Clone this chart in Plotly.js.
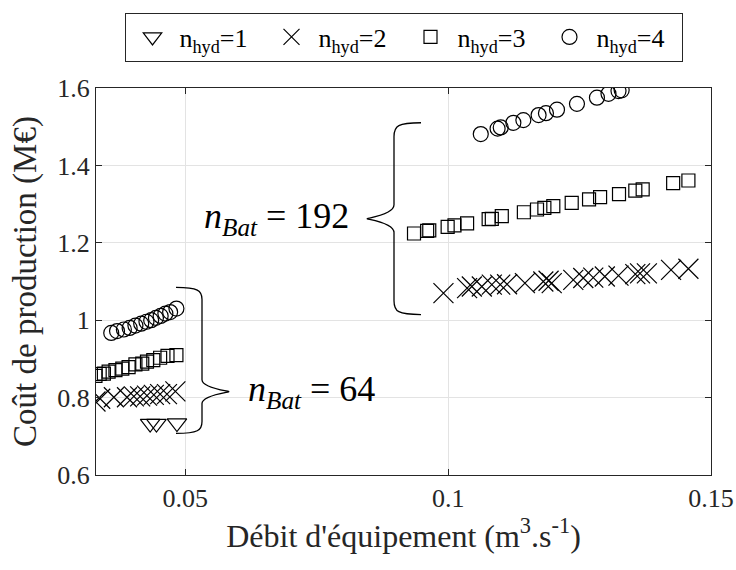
<!DOCTYPE html>
<html>
<head>
<meta charset="utf-8">
<script src="https://cdn.plot.ly/plotly-3.0.1.min.js"></script>
<style>html,body{margin:0;padding:0;background:#fff;}#chart{width:736px;height:570px;}</style>
</head>
<body>
<div id="chart"></div>
<script>
// ---- data (flow in m3/s, cost in M€) ----
const seriesNames = ['n<sub>hyd</sub>=1', 'n<sub>hyd</sub>=2', 'n<sub>hyd</sub>=3', 'n<sub>hyd</sub>=4'];

const flowHyd1 = [0.0433, 0.0445, 0.0484];
const costHyd1 = [0.733, 0.733, 0.734];

const flowHyd2 = [0.0329, 0.0338, 0.0364, 0.0389, 0.0402, 0.0414, 0.0427, 0.0440, 0.0452, 0.0465, 0.0481,
                  0.0991, 0.1036, 0.1045, 0.1064, 0.1083, 0.1099, 0.1112, 0.1146, 0.1181, 0.1191, 0.1197,
                  0.1238, 0.1257, 0.1276, 0.1298, 0.1324, 0.1356, 0.1365, 0.1378, 0.1424, 0.1457];
const costHyd2 = [0.790, 0.797, 0.801, 0.801, 0.803, 0.803, 0.805, 0.807, 0.809, 0.809, 0.816,
                  1.070, 1.083, 1.087, 1.087, 1.092, 1.092, 1.093, 1.096, 1.100, 1.102, 1.096,
                  1.104, 1.109, 1.110, 1.113, 1.115, 1.119, 1.121, 1.121, 1.130, 1.133];

const flowHyd3 = [0.0329, 0.0337, 0.0345, 0.0354, 0.0367, 0.0380, 0.0392, 0.0405, 0.0418, 0.0427, 0.0439, 0.0452, 0.0466, 0.0483,
                  0.0935, 0.0960, 0.0964, 0.0999, 0.1012, 0.1036, 0.1077, 0.1083, 0.1102, 0.1144, 0.1169, 0.1183,
                  0.1200, 0.1235, 0.1268, 0.1289, 0.1325, 0.1356, 0.1370, 0.1428, 0.1457];
const costHyd3 = [0.856, 0.861, 0.862, 0.867, 0.871, 0.875, 0.879, 0.886, 0.888, 0.893, 0.897, 0.903, 0.908, 0.910,
                  1.224, 1.231, 1.232, 1.241, 1.245, 1.250, 1.261, 1.262, 1.269, 1.279, 1.286, 1.290,
                  1.295, 1.303, 1.312, 1.318, 1.326, 1.335, 1.338, 1.354, 1.361];

const flowHyd4 = [0.0359, 0.0370, 0.0383, 0.0394, 0.0405, 0.0416, 0.0426, 0.0435, 0.0444, 0.0453, 0.0462, 0.0471, 0.0483,
                  0.1062, 0.1094, 0.1100, 0.1124, 0.1143, 0.1172, 0.1186, 0.1207, 0.1245, 0.1283, 0.1305, 0.1324, 0.1330];
const costHyd4 = [0.967, 0.972, 0.976, 0.980, 0.986, 0.991, 0.996, 1.000, 1.006, 1.011, 1.017, 1.021, 1.030,
                  1.481, 1.495, 1.498, 1.510, 1.517, 1.530, 1.535, 1.544, 1.559, 1.575, 1.585, 1.592, 1.594];

const xTickVals = [0.05, 0.1, 0.15];
const xTickText = ['0.05', '0.1', '0.15'];
const yTickVals = [0.6, 0.8, 1.0, 1.2, 1.4, 1.6];
const yTickText = ['0.6', '0.8', '1', '1.2', '1.4', '1.6'];

// ---- layout geometry ----
const W = 736, H = 570;
const M = {l: 96, r: 25, t: 85, b: 95};
const xRange = [0.033, 0.15];
const yRange = [0.6, 1.6];
const px2x = X => xRange[0] + (X - M.l) / (W - M.l - M.r) * (xRange[1] - xRange[0]);
const px2y = Y => yRange[1] - (Y - M.t) / (H - M.t - M.b) * (yRange[1] - yRange[0]);

function brace(xEnd, xV, xTip, yTop, yTip, yBot, r) {
  const P = (X, Y) => px2x(X).toFixed(6) + ',' + px2y(Y).toFixed(6);
  const s = Math.sign(xEnd - xV); // direction of the arms
  return 'M' + P(xEnd, yTop) +
    ' C' + P(xV + s * 4, yTop) + ' ' + P(xV, yTop + 3) + ' ' + P(xV, yTop + r) +
    ' L' + P(xV, yTip - r) +
    ' C' + P(xV, yTip - 3) + ' ' + P(xTip - s * 6, yTip) + ' ' + P(xTip, yTip) +
    ' C' + P(xTip - s * 6, yTip) + ' ' + P(xV, yTip + 3) + ' ' + P(xV, yTip + r) +
    ' L' + P(xV, yBot - r) +
    ' C' + P(xV, yBot - 3) + ' ' + P(xV + s * 4, yBot) + ' ' + P(xEnd, yBot);
}

const ink = '#000000';
const mk = (sym, size) => ({symbol: sym, size: size, color: ink, line: {color: ink, width: 1.2}});

const traces = [
  {x: flowHyd1, y: costHyd1, name: seriesNames[0], mode: 'markers', type: 'scatter', marker: mk('triangle-down-open', 17)},
  {x: flowHyd2, y: costHyd2, name: seriesNames[1], mode: 'markers', type: 'scatter', marker: mk('x-thin-open', 20)},
  {x: flowHyd3, y: costHyd3, name: seriesNames[2], mode: 'markers', type: 'scatter', marker: mk('square-open', 13)},
  {x: flowHyd4, y: costHyd4, name: seriesNames[3], mode: 'markers', type: 'scatter', marker: mk('circle-open', 15)}
];

const serif = 'Liberation Serif, Times New Roman, serif';
const axisCommon = {
  showline: true, linecolor: '#262626', linewidth: 1, mirror: 'ticks',
  ticks: 'inside', ticklen: 6, tickcolor: '#262626', tickwidth: 1,
  showgrid: true, gridcolor: '#e3e3e3', gridwidth: 1, zeroline: false,
  tickfont: {family: serif, size: 26, color: '#262626'}
};

const layout = {
  width: W, height: H,
  margin: {l: M.l, r: M.r, t: M.t, b: M.b},
  paper_bgcolor: '#ffffff', plot_bgcolor: '#ffffff',
  showlegend: true,
  legend: {
    orientation: 'h', x: 0.5, xanchor: 'center', y: 1.195, yanchor: 'top',
    bordercolor: '#262626', borderwidth: 1, bgcolor: '#ffffff',
    font: {family: serif, size: 26, color: '#000000'},
    itemwidth: 44, entrywidth: 80, entrywidthmode: 'pixels',
    tracegroupgap: 0
  },
  xaxis: Object.assign({}, axisCommon, {
    range: xRange, tickvals: xTickVals, ticktext: xTickText,
    title: {text: "Débit d'équipement (m<sup>3</sup>.s<sup>-1</sup>)", font: {family: serif, size: 32, color: '#262626'}, standoff: 8}
  }),
  yaxis: Object.assign({}, axisCommon, {
    range: yRange, tickvals: yTickVals, ticktext: yTickText,
    title: {text: 'Coût de production (M€)', font: {family: serif, size: 33, color: '#262626'}, standoff: 10}
  }),
  shapes: [
    {type: 'path', xref: 'x', yref: 'y', path: brace(421, 394, 368, 120, 216.7, 313.3, 14), line: {color: '#000', width: 1.3}},
    {type: 'path', xref: 'x', yref: 'y', path: brace(176, 202, 228, 286, 391, 433, 12), line: {color: '#000', width: 1.3}}
  ],
  annotations: [
    {xref: 'x', yref: 'y', x: px2x(276), y: px2y(217), xanchor: 'center', yanchor: 'middle', showarrow: false,
     text: '<i>n</i><sub><i>Bat</i></sub> = 192', font: {family: serif, size: 36, color: '#000'}},
    {xref: 'x', yref: 'y', x: px2x(311), y: px2y(391), xanchor: 'center', yanchor: 'middle', showarrow: false,
     text: '<i>n</i><sub><i>Bat</i></sub> = 64', font: {family: serif, size: 36, color: '#000'}}
  ]
};

Plotly.newPlot('chart', traces, layout, {staticPlot: true, displayModeBar: false});
</script>
</body>
</html>
